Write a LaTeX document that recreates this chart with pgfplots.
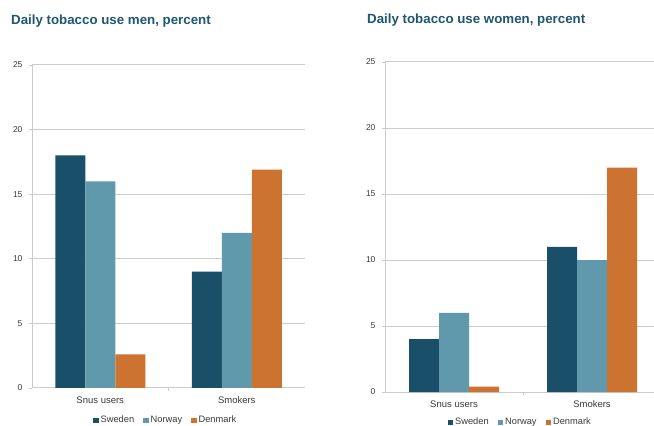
\documentclass[border=0pt]{standalone}
\usepackage{pgfplots}
\pgfplotsset{compat=1.18}
\usepackage{fontspec}
\setmainfont{Liberation Sans}
\definecolor{swe}{HTML}{1A4F69}
\definecolor{nor}{HTML}{6199AC}
\definecolor{den}{HTML}{CC7331}
\definecolor{titlec}{HTML}{1F5670}
\definecolor{gridc}{HTML}{CCCCCC}
\definecolor{labc}{HTML}{3A3A3A}
\pgfplotsset{
  mybar/.style={
    scale only axis,
    ybar=0pt, bar width=30pt,
    ymin=0, ymax=25, ytick={0,5,...,25},
    xmin=-0.5,
    xtick={0,1}, xticklabels={Snus users,Smokers},
    minor xtick={0.5},
    ymajorgrids,
    major grid style={gridc, line width=1pt},
    axis x line*=bottom, axis y line*=left,
    axis line style={gridc, line width=1pt, -},
    tick align=outside,
    major tick length=3pt, minor tick length=3pt,
    every tick/.style={gridc, line width=0.8pt},
    major x tick style={draw=none},
    /pgf/number format/assume math mode=true,
    yticklabel style={font=\fontsize{8.5}{9}\selectfont, text=labc, xshift=-3pt},
    xticklabel style={font=\fontsize{9.5}{10}\selectfont, text=labc, yshift=-2pt},
    legend columns=3,
    legend style={draw=none, fill=none, font=\fontsize{9.3}{10}\selectfont, text=labc,
      /tikz/every even column/.append style={column sep=7pt}},
    legend image code/.code={\fill[#1] (0pt,-2.7pt) rectangle (5.4pt,2.7pt);},
    legend cell align=left,
  }
}
\begin{document}
\begin{tikzpicture}[x=1pt,y=1pt]
\clip (0,0) rectangle (654,426);
\fill[white] (0,0) rectangle (654,426);
\node[anchor=base west, inner sep=0pt, text=titlec, font=\fontsize{13.3}{15}\selectfont\bfseries] at (11,401) {Daily tobacco use men, percent};
\node[anchor=base west, inner sep=0pt, text=titlec, font=\fontsize{13.3}{15}\selectfont\bfseries] at (367,402) {Daily tobacco use women, percent};

\begin{axis}[mybar, at={(32pt,38pt)}, anchor=south west,
  width=273pt, height=323pt, xmax=1.5,
  legend style={at={(0.49,-0.1)}, anchor=center}]
\addplot[fill=swe, draw=none] coordinates {(0,18) (1,9)};
\addplot[fill=nor, draw=none] coordinates {(0,16) (1,12)};
\addplot[fill=den, draw=none] coordinates {(0,2.6) (1,16.9)};
\legend{Sweden,Norway,Denmark}
\end{axis}

\begin{axis}[mybar, at={(385pt,34pt)}, anchor=south west,
  width=276pt, height=330pt, xmax=1.5,
  legend style={at={(0.49,-0.092)}, anchor=center}]
\addplot[fill=swe, draw=none] coordinates {(0,4) (1,11)};
\addplot[fill=nor, draw=none] coordinates {(0,6) (1,10)};
\addplot[fill=den, draw=none] coordinates {(0,0.4) (1,17)};
\legend{Sweden,Norway,Denmark}
\end{axis}
\end{tikzpicture}
\end{document}
